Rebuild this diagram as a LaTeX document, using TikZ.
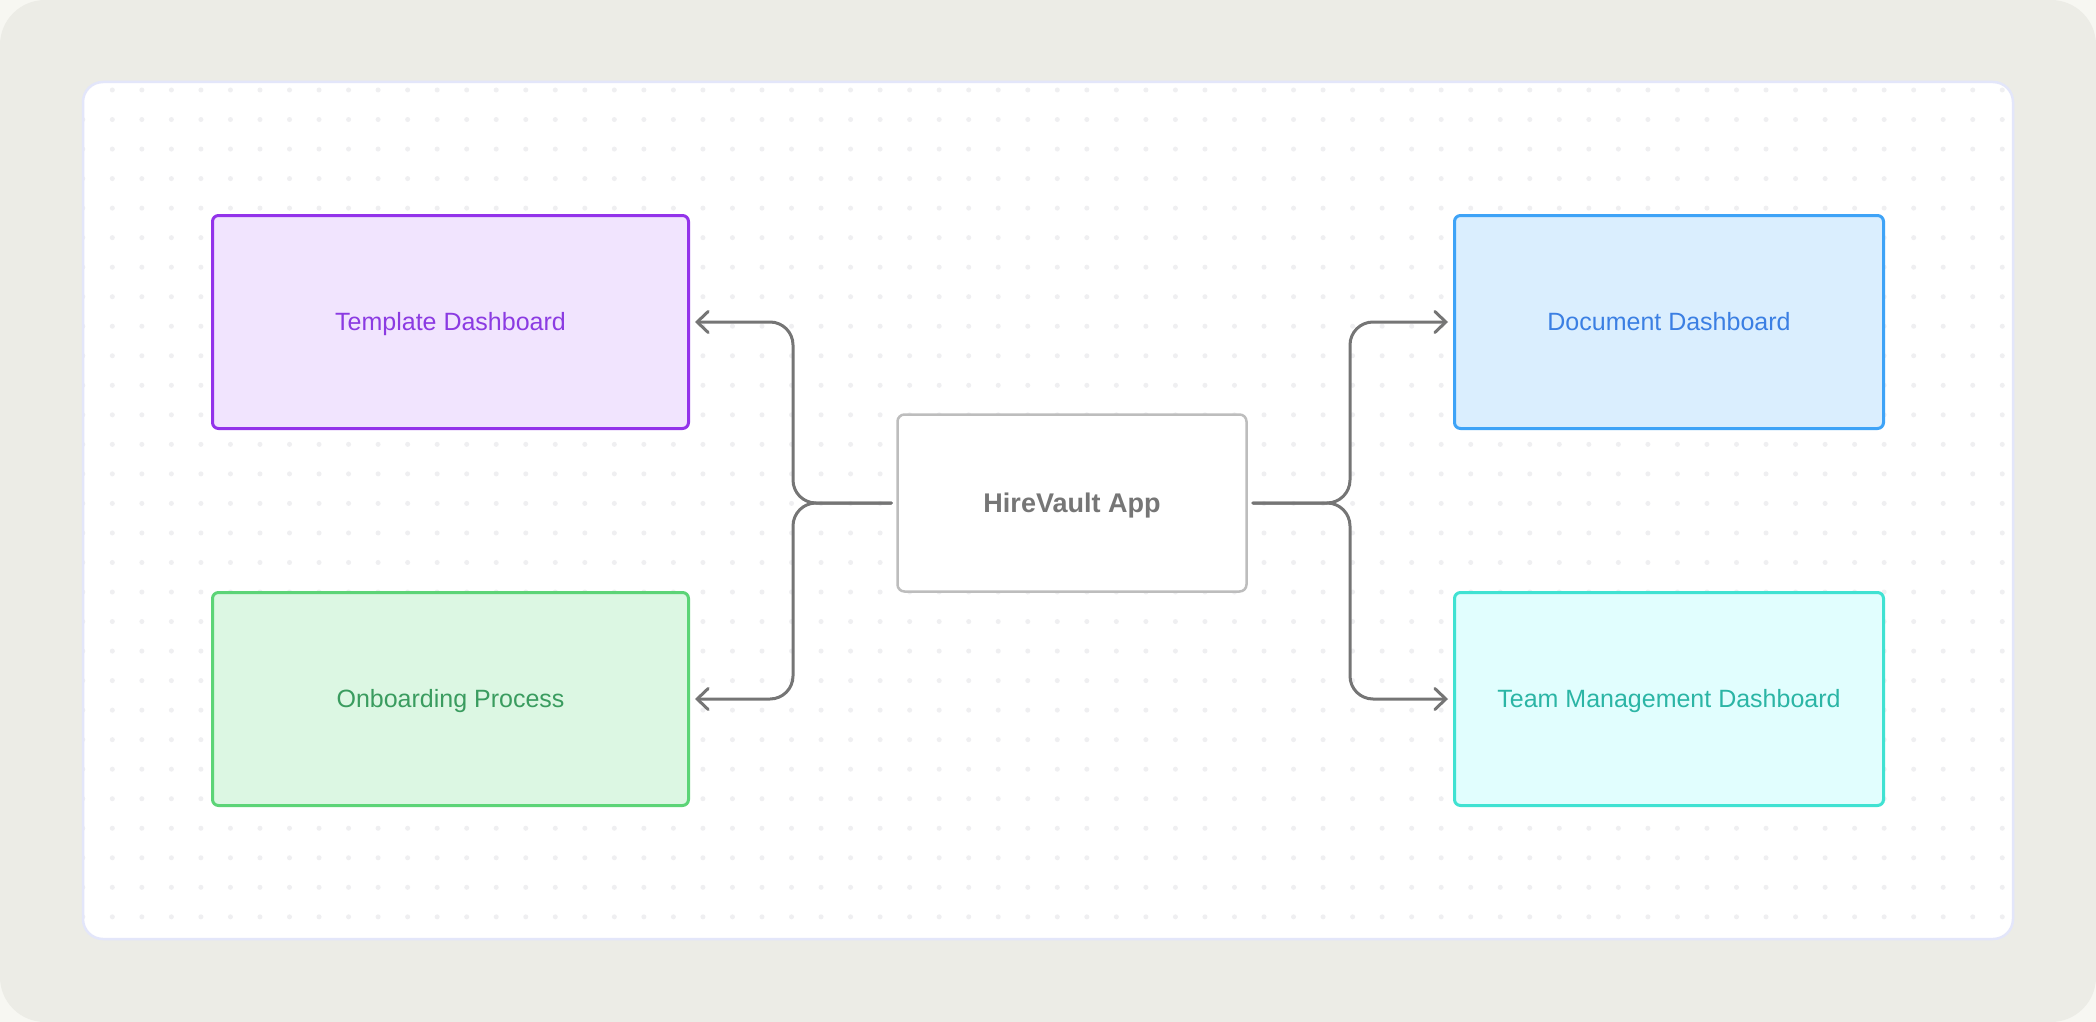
\documentclass[tikz,border=0pt]{standalone}
\usepackage{fontspec}
\setmainfont{Liberation Sans}
\usetikzlibrary{arrows.meta}
\definecolor{pagebg}{HTML}{F7F7F2}
\definecolor{outerbg}{HTML}{ECECE6}
\definecolor{panelline}{HTML}{E3E6FA}
\definecolor{dotc}{HTML}{EFEFF1}
\definecolor{purpfill}{HTML}{F1E4FE}
\definecolor{purpline}{HTML}{9333EA}
\definecolor{purptext}{HTML}{8B3BE2}
\definecolor{grnfill}{HTML}{DCF7E3}
\definecolor{grnline}{HTML}{5CD477}
\definecolor{grntext}{HTML}{3A9C5F}
\definecolor{blufill}{HTML}{DAEEFE}
\definecolor{bluline}{HTML}{3EA3F7}
\definecolor{blutext}{HTML}{3B7FE3}
\definecolor{tealfill}{HTML}{E1FEFE}
\definecolor{tealline}{HTML}{40E2D2}
\definecolor{tealtext}{HTML}{2BB5A5}
\definecolor{hubline}{HTML}{BDBDBD}
\definecolor{hubtext}{HTML}{767676}
\definecolor{connc}{HTML}{757575}
\tikzset{
  card/.style={draw, line width=3pt, rounded corners=6pt, minimum width=476pt, minimum height=213pt, inner sep=0pt, text height=17pt, text depth=0pt, font=\fontsize{25}{28}\selectfont},
  sidecard/.style={card, minimum width=429pt},
  hubcard/.style={draw=hubline, fill=white, line width=2.5pt, rounded corners=7pt, minimum width=349pt, minimum height=177pt, inner sep=0pt, text height=19.5pt, text depth=0pt, text=hubtext, font=\fontsize{27}{30}\selectfont\bfseries},
  conn/.style={draw=connc, line width=3pt, rounded corners=23pt, line cap=round, -{Straight Barb[length=11pt,width=21pt,line cap=round]}}
}
\begin{document}
\begin{tikzpicture}[x=1pt,y=-1pt]
\useasboundingbox (0,0) rectangle (2096,1022);
\fill[pagebg] (0,0) rectangle (2096,1022);
\fill[outerbg, rounded corners=45pt] (0,0) rectangle (2096,1022);
\fill[white, rounded corners=20pt] (83,82) rectangle (2013,939);
\begin{scope}
  \clip[rounded corners=20pt] (83,82) rectangle (2013,939);
  \foreach \i in {0,...,65} {
    \foreach \j in {0,...,28} {
      \fill[dotc] (82.8+29.53*\i, 90+29.53*\j) circle (2.5pt);
    }
  }
\end{scope}
\draw[panelline, line width=2.5pt, rounded corners=20pt] (83,82) rectangle (2013,939);

\node[card, fill=purpfill, draw=purpline, text=purptext] (tmpl) at (450.5,322) {Template Dashboard};
\node[card, fill=grnfill, draw=grnline, text=grntext] (onb) at (450.5,699) {Onboarding Process};
\node[sidecard, fill=blufill, draw=bluline, text=blutext] (doc) at (1669,322) {Document Dashboard};
\node[sidecard, fill=tealfill, draw=tealline, text=tealtext] (team) at (1669,699) {Team Management Dashboard};
\node[hubcard] (hv) at (1072,503) {HireVault App};

\coordinate (ls) at ([xshift=-5pt]hv.west);
\coordinate (rs) at ([xshift=5pt]hv.east);
\coordinate (lx) at (793,0);
\coordinate (rx) at (1350,0);
\coordinate (lj) at (lx |- ls);
\coordinate (rj) at (rx |- rs);
\coordinate (lt) at ([xshift=5pt]tmpl.east);
\coordinate (lb) at ([xshift=5pt]onb.east);
\coordinate (rt) at ([xshift=-5pt]doc.west);
\coordinate (rb) at ([xshift=-5pt]team.west);

\draw[conn] (ls) -- (lj) |- (lt);
\draw[conn] (ls) -- (lj) |- (lb);
\draw[conn] (rs) -- (rj) |- (rt);
\draw[conn] (rs) -- (rj) |- (rb);
\end{tikzpicture}
\end{document}
